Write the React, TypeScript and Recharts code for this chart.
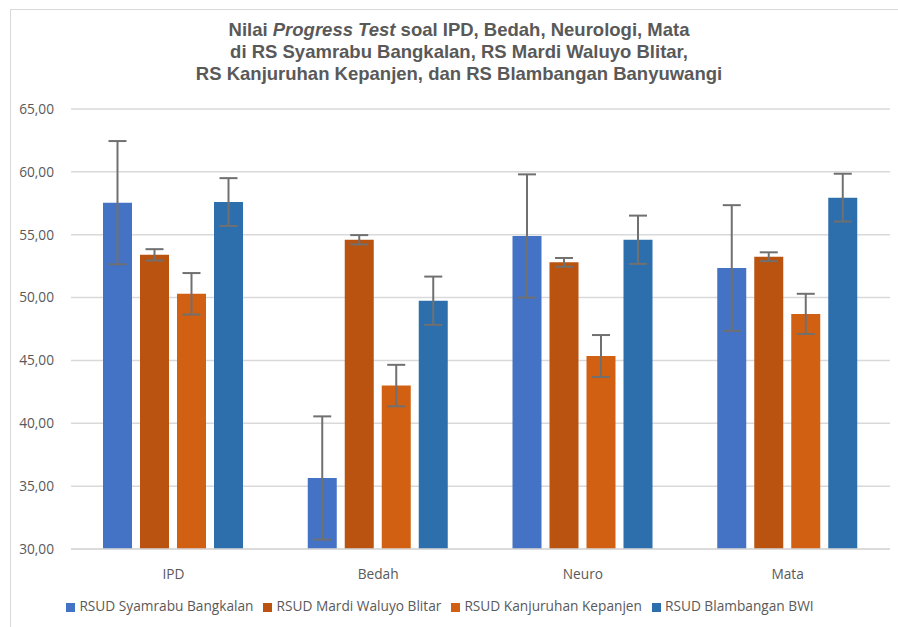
import React from 'react';
import { BarChart, Bar, XAxis, YAxis, CartesianGrid, Legend, ErrorBar } from 'recharts';

const categories = ['IPD', 'Bedah', 'Neuro', 'Mata'];
const seriesNames = [
  'RSUD Syamrabu Bangkalan',
  'RSUD Mardi Waluyo Blitar',
  'RSUD Kanjuruhan Kepanjen',
  'RSUD Blambangan BWI',
];
const syamrabu = [57.55, 35.65, 54.9, 52.35];
const syamrabuErr = [4.9, 4.9, 4.9, 5.0];
const mardi = [53.4, 54.6, 52.8, 53.25];
const mardiErr = [0.45, 0.37, 0.35, 0.35];
const kanjuruhan = [50.3, 43.0, 45.35, 48.7];
const kanjuruhanErr = [1.65, 1.65, 1.67, 1.6];
const blambangan = [57.6, 49.75, 54.6, 57.95];
const blambanganErr = [1.9, 1.92, 1.92, 1.9];
const yTicks = [30, 35, 40, 45, 50, 55, 60, 65];

const colors = ['#4472C4', '#B9530F', '#D26012', '#2C6FAC'];

const data = categories.map((c, i) => ({
  name: c,
  s1: syamrabu[i],
  e1: syamrabuErr[i],
  s2: mardi[i],
  e2: mardiErr[i],
  s3: kanjuruhan[i],
  e3: kanjuruhanErr[i],
  s4: blambangan[i],
  e4: blambanganErr[i],
}));

const textColor = '#595959';
const uiFont = '"Open Sans", sans-serif';
const keys = ['s1', 's2', 's3', 's4'];
const errKeys = ['e1', 'e2', 'e3', 'e4'];

export default function App() {
  return (
    <div
      style={{
        position: 'absolute',
        left: 0,
        top: 0,
        width: 898,
        height: 627,
        overflow: 'hidden',
        background: '#fff',
      }}
    >
      <div
        style={{
          position: 'absolute',
          left: 10,
          top: 9,
          width: 910,
          height: 640,
          border: '1.5px solid #d9d9d9',
          boxSizing: 'border-box',
        }}
      />
      <div
        style={{
          position: 'absolute',
          left: 10,
          width: 898,
          top: 19,
          textAlign: 'center',
          fontFamily: '"Liberation Sans", Arial, sans-serif',
          fontWeight: 'bold',
          fontSize: 18.5,
          lineHeight: '22px',
          color: textColor,
        }}
      >
        <div>
          Nilai <i>Progress Test</i> soal IPD, Bedah, Neurologi, Mata
        </div>
        <div>di RS Syamrabu Bangkalan, RS Mardi Waluyo Blitar,</div>
        <div>RS Kanjuruhan Kepanjen, dan RS Blambangan Banyuwangi</div>
      </div>
      <div style={{ position: 'absolute', left: 0, top: 0 }}>
        <BarChart
          width={898}
          height={627}
          data={data}
          margin={{ top: 109, right: 8, bottom: 12, left: 0 }}
          barSize={29}
          barGap={8}
        >
          <CartesianGrid vertical={false} stroke="#d9d9d9" strokeWidth={1.5} />
          <XAxis
            dataKey="name"
            axisLine={{ stroke: '#d9d9d9', strokeWidth: 1.5 }}
            tickLine={false}
            tickSize={0}
            tickMargin={20}
            height={47}
            tick={{ fill: textColor, fontSize: 13.7, fontFamily: uiFont }}
          />
          <YAxis
            width={71}
            domain={[30, 65]}
            ticks={yTicks}
            interval={0}
            axisLine={false}
            tickLine={false}
            tickSize={0}
            tickMargin={17}
            tickFormatter={(v: number) => v.toFixed(2).replace('.', ',')}
            tick={{ fill: textColor, fontSize: 13.7, fontFamily: uiFont }}
          />
          <Legend
            verticalAlign="bottom"
            iconType="square"
            iconSize={9}
            itemSorter={(item: any) => keys.indexOf(item.dataKey)}
            wrapperStyle={{ fontFamily: uiFont, fontSize: 13.7 }}
            formatter={(value: string) => (
              <span style={{ color: textColor }}>{value}</span>
            )}
          />
          {keys.map((k, i) => (
            <Bar
              key={k}
              dataKey={k}
              name={seriesNames[i]}
              fill={colors[i]}
              isAnimationActive={false}
            >
              <ErrorBar
                dataKey={errKeys[i]}
                width={9}
                stroke="#707070"
                strokeWidth={2}
              />
            </Bar>
          ))}
        </BarChart>
      </div>
    </div>
  );
}
